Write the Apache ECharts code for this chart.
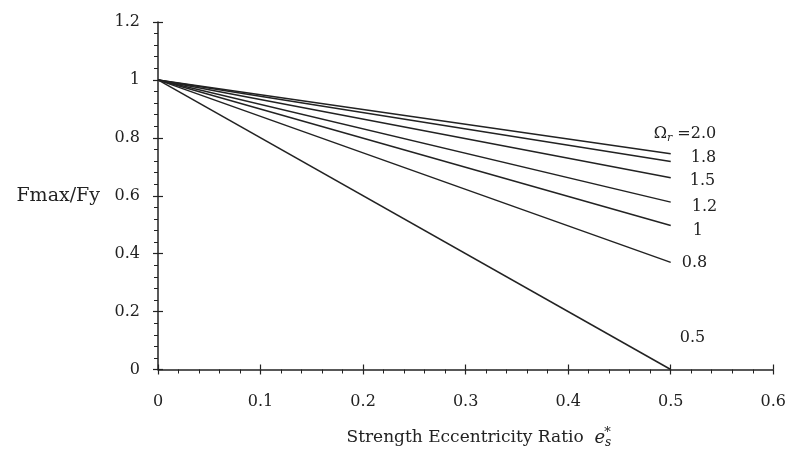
<!DOCTYPE html>
<html>
<head>
<meta charset="utf-8">
<script src="https://cdn.jsdelivr.net/npm/echarts@6/dist/echarts.min.js"></script>
<style>
  html, body { margin: 0; padding: 0; background: #fff; }
  #chart { width: 789px; height: 454px; }
</style>
</head>
<body>
<div id="chart"></div>
<script>
// Strength ratio curves: Fmax/Fy falls linearly from 1 at e = 0
const omegaLabels = ['2.0', '1.8', '1.5', '1.2', '1', '0.8', '0.5'];
const startE = 0;
const endE = 0.5;
const startValue = 1;
const endValues = [0.745, 0.718, 0.662, 0.578, 0.497, 0.37, 0];
const xTicks = [0, 0.1, 0.2, 0.3, 0.4, 0.5, 0.6];
const yTicks = [0, 0.2, 0.4, 0.6, 0.8, 1, 1.2];

// where each curve label sits relative to the curve's end point
const labelOffsets = [[-17, -20], [20, -4], [19, 3], [21, 5], [22, 5], [11, 0], [9, -32]];

const FONT = 'DejaVu Serif';
const INK = '#222';

const chart = echarts.init(document.getElementById('chart'), null, { renderer: 'canvas' });

const series = endValues.map((v, i) => {
  const text = i === 0 ? '{o|Ω}{r|r} =' + omegaLabels[i] : omegaLabels[i];
  return {
    type: 'line',
    name: omegaLabels[i],
    symbol: 'none',
    silent: true,
    lineStyle: { color: INK, width: 1.5 },
    data: [[startE, startValue], [endE, v]],
    endLabel: {
      show: true,
      distance: 0,
      offset: labelOffsets[i],
      formatter: () => text,
      fontFamily: FONT,
      fontSize: 16,
      color: INK,
      rich: {
        o: { fontFamily: FONT, fontSize: 16, color: INK },
        r: { fontFamily: FONT, fontSize: 11, fontStyle: 'italic', color: INK, padding: [8, 0, 0, 0] }
      }
    }
  };
});

chart.setOption({
  animation: false,
  backgroundColor: '#fff',
  grid: { left: 158, right: 12, top: 22, bottom: 81, containLabel: false },
  xAxis: [
    {
      type: 'value',
      position: 'bottom',
      min: xTicks[0],
      max: xTicks[xTicks.length - 1],
      interval: 0.1,
      splitLine: { show: false },
      axisLine: { show: true, lineStyle: { color: INK, width: 1.5 } },
      axisTick: { show: true, length: 5, lineStyle: { color: INK, width: 1.2 } },
      minorTick: { show: true, splitNumber: 5, length: 4, lineStyle: { color: INK, width: 1 } },
      axisLabel: {
        margin: 24, fontFamily: FONT, fontSize: 16, color: INK,
        formatter: v => String(Math.round(v * 10) / 10)
      },
      name: '{t|Strength Eccentricity Ratio}  {e|e}{s|s}{a|*}',
      nameLocation: 'middle',
      nameGap: 57,
      nameTextStyle: {
        fontFamily: FONT, fontSize: 17, color: INK,
        padding: [0, 0, 0, 26],
        rich: {
          t: { fontFamily: FONT, fontSize: 17, color: INK },
          e: { fontFamily: FONT, fontSize: 18, fontStyle: 'italic', color: INK },
          s: { fontFamily: FONT, fontSize: 12, fontStyle: 'italic', color: INK, padding: [10, 0, 0, 0] },
          a: { fontFamily: FONT, fontSize: 13, color: INK, padding: [0, 0, 10, -7] }
        }
      }
    },
    {
      // inward half of the major ticks so they cross the axis
      type: 'value',
      position: 'bottom',
      min: xTicks[0],
      max: xTicks[xTicks.length - 1],
      interval: 0.1,
      splitLine: { show: false },
      axisLine: { show: false },
      axisTick: { show: true, inside: true, length: 5, lineStyle: { color: INK, width: 1.2 } },
      axisLabel: { show: false }
    }
  ],
  yAxis: [
    {
      type: 'value',
      position: 'left',
      min: yTicks[0],
      max: yTicks[yTicks.length - 1],
      interval: 0.2,
      splitLine: { show: false },
      axisLine: { show: true, lineStyle: { color: INK, width: 1.5 } },
      axisTick: { show: true, length: 5, lineStyle: { color: INK, width: 1.2 } },
      minorTick: { show: true, splitNumber: 5, length: 4, lineStyle: { color: INK, width: 1 } },
      axisLabel: {
        margin: 18, fontFamily: FONT, fontSize: 16, color: INK,
        formatter: v => String(Math.round(v * 10) / 10)
      },
      name: 'Fmax/Fy',
      nameLocation: 'middle',
      nameRotate: 0,
      nameGap: 58,
      nameTextStyle: { fontFamily: FONT, fontSize: 19, color: INK }
    },
    {
      type: 'value',
      position: 'left',
      min: yTicks[0],
      max: yTicks[yTicks.length - 1],
      interval: 0.2,
      splitLine: { show: false },
      axisLine: { show: false },
      axisTick: { show: true, inside: true, length: 5, lineStyle: { color: INK, width: 1.2 } },
      axisLabel: { show: false }
    }
  ],
  series: series
});
</script>
</body>
</html>
